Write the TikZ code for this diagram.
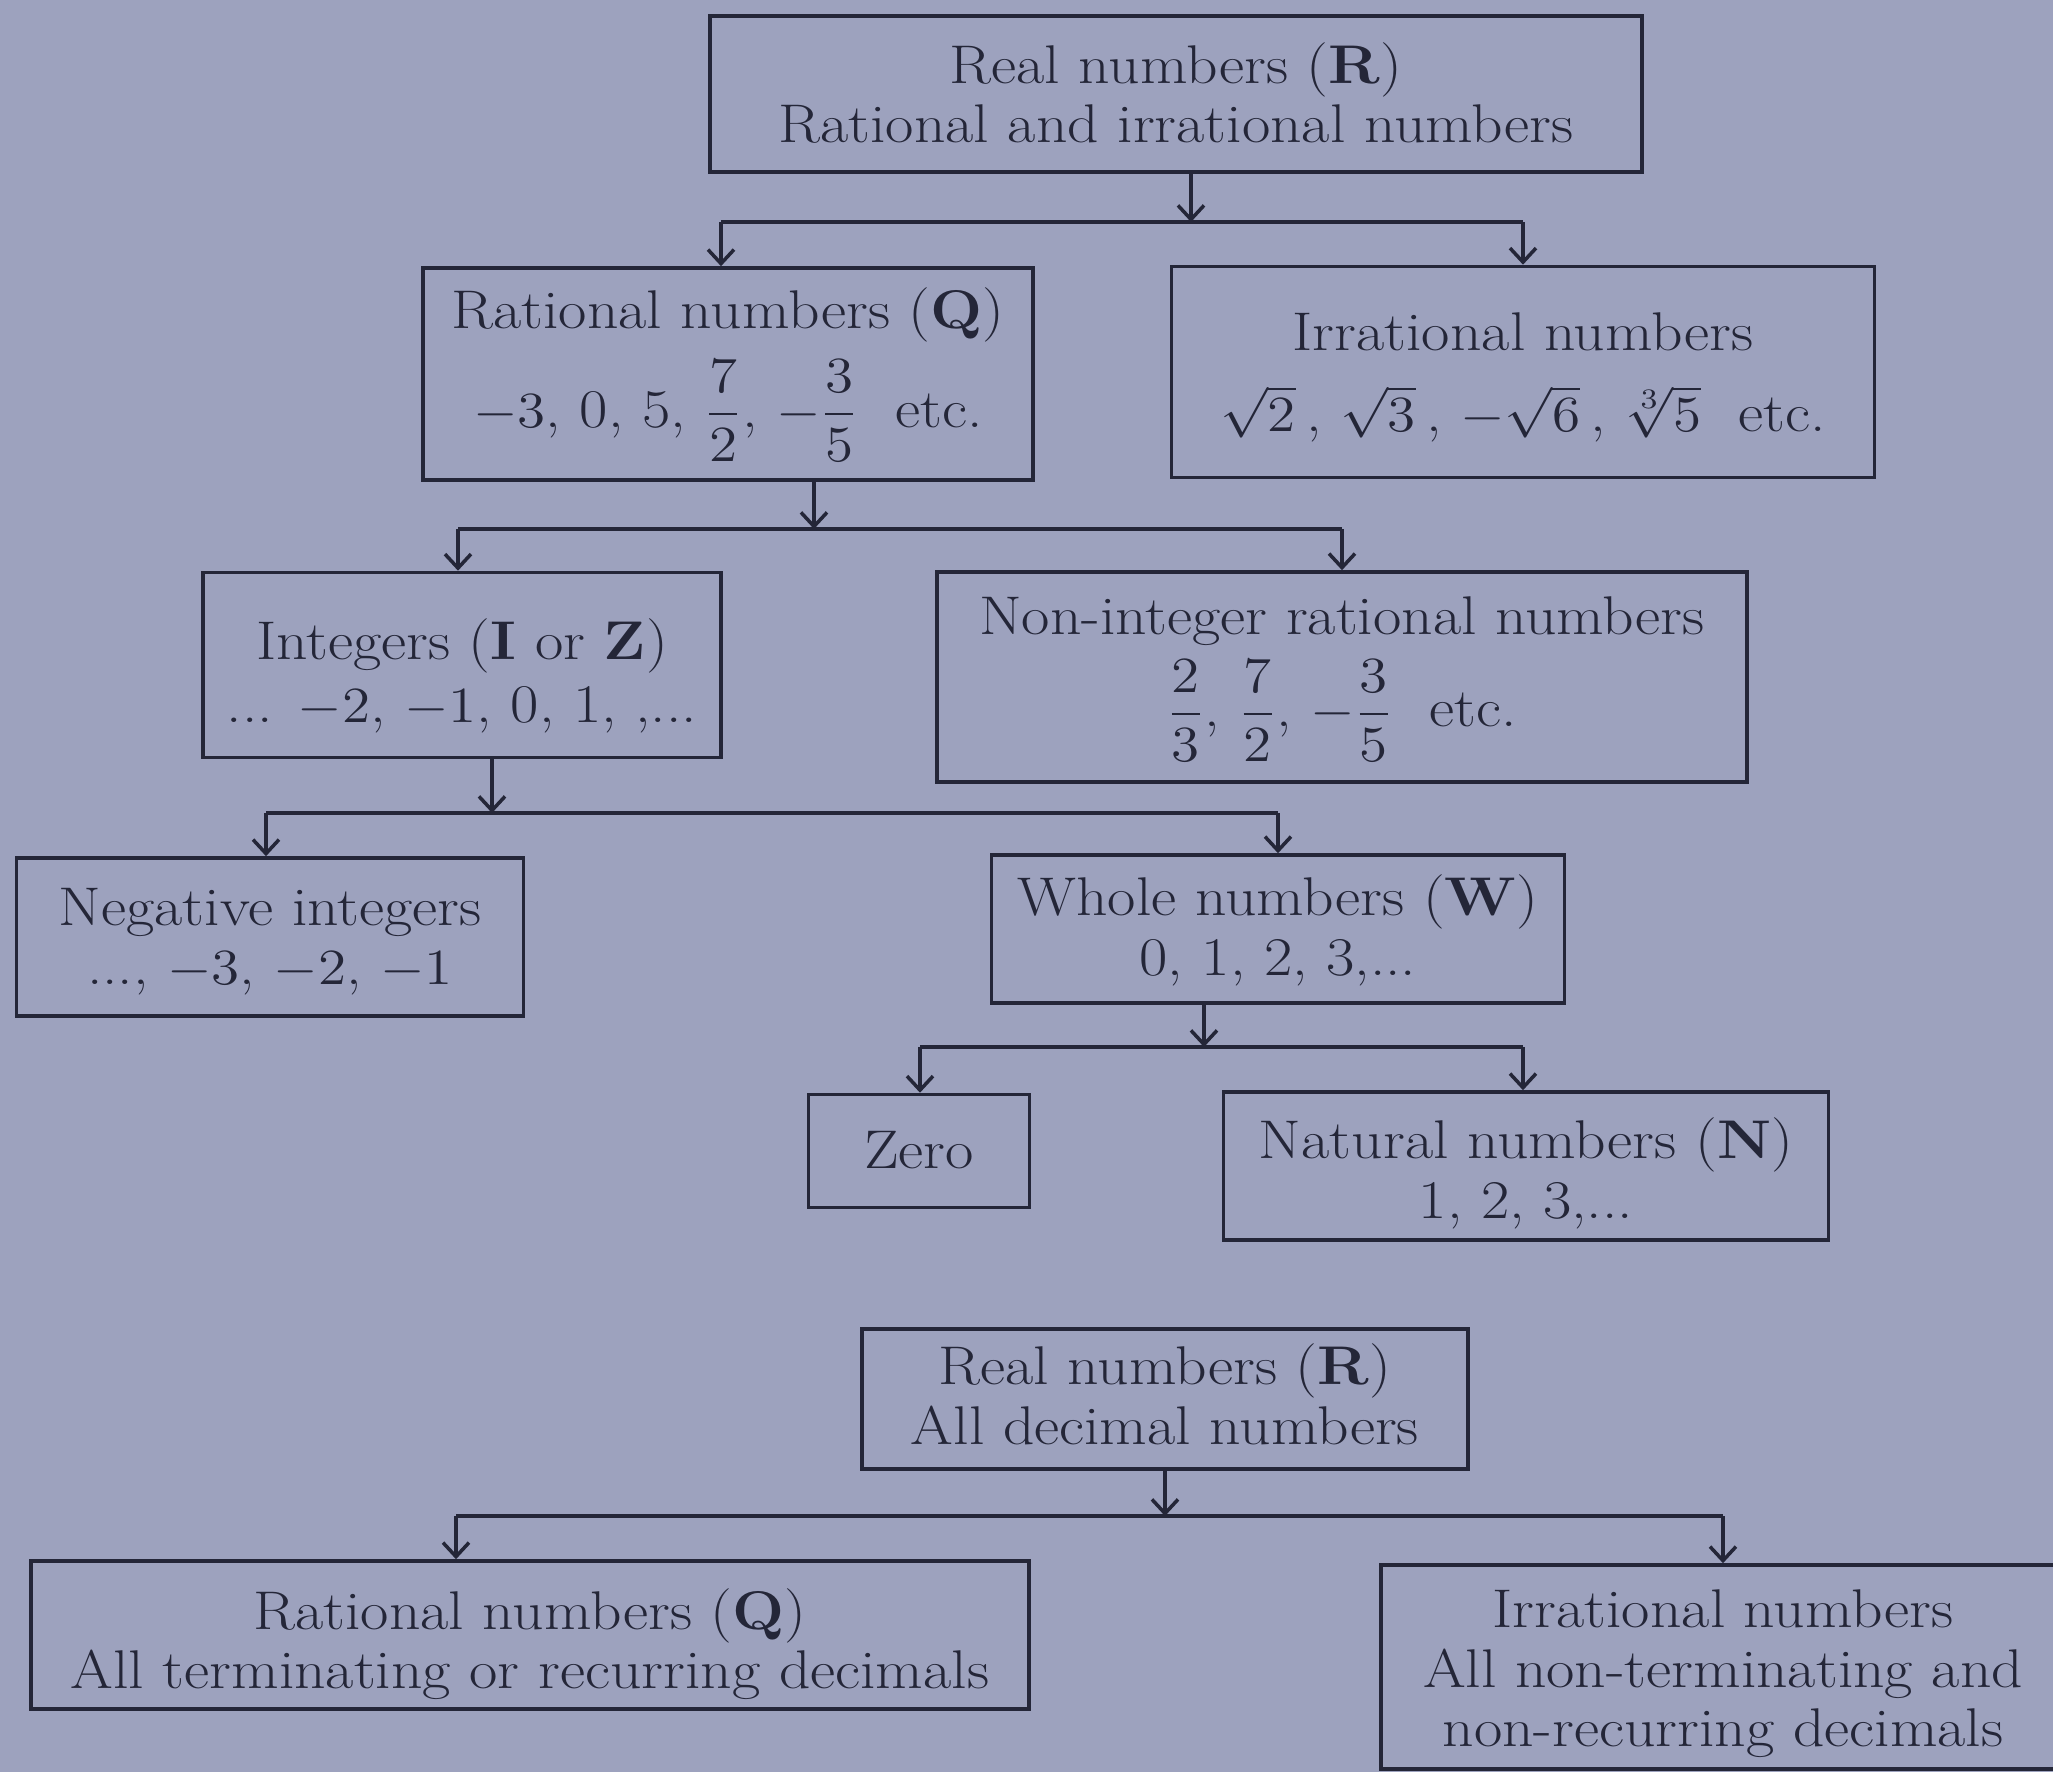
\documentclass[tikz,border=0pt]{standalone}
\usepackage{amsmath,graphicx}
\usetikzlibrary{arrows.meta}
\definecolor{paper}{RGB}{157,162,190}
\definecolor{ink}{RGB}{36,38,56}
% text of a box, a bit wider than the font gives; [#1] lowers it in the box
\newcommand{\Wide}[2][0pt]{\raisebox{-#1}[\height][\depth]{%
  \scalebox{1.13}[1]{\begin{tabular}{@{}c@{}}#2\end{tabular}}}}
\tikzset{
  numbox/.style={draw=ink, line width=1pt, text=ink,
    inner sep=0pt, font=\fontsize{15.5}{17}\selectfont},
  arr/.style={draw=ink, line width=1pt, -{Straight Barb[length=1.4mm,width=2.6mm]}},
  bar/.style={draw=ink, line width=1pt}
}

\begin{document}
\begin{tikzpicture}[x=0.01cm,y=-0.01cm]
\path[use as bounding box, fill=paper] (0,0) rectangle (2053,1772);
\clip (0,0) rectangle (2053,1772);
% first tree
\node[numbox, minimum width=9.31cm, minimum height=1.56cm] (real) at (1176,94)
  {\Wide[2pt]{Real numbers (\textbf{R})\\ Rational and irrational numbers}};
\node[numbox, minimum width=6.10cm, minimum height=2.12cm] (ratq) at (728,374)
  {\Wide{Rational numbers (\textbf{Q})\\[4pt] $-3$, 0, 5, $\dfrac{7}{2}$, $-\dfrac{3}{5}$ \ etc.}};
\node[numbox, minimum width=7.03cm, minimum height=2.11cm] (irr) at (1523,372)
  {\Wide[2pt]{Irrational numbers\\[5pt] $\sqrt{2}$\,, $\sqrt{3}$\,, $-\sqrt{6}$\,, $\sqrt[3]{5}$ \ etc.}};
\node[numbox, minimum width=5.18cm, minimum height=1.85cm] (integ) at (462,665)
  {\Wide[4pt]{Integers (\textbf{I} or \textbf{Z})\\[1pt] ... $-2$, $-1$, 0, 1, ,...}};
\node[numbox, minimum width=8.10cm, minimum height=2.10cm] (nonint) at (1342,677)
  {\Wide{Non-integer rational numbers\\[2pt] $\dfrac{2}{3}$, $\dfrac{7}{2}$, $-\dfrac{3}{5}$ \ etc.}};
\node[numbox, minimum width=5.07cm, minimum height=1.58cm] (neg) at (270,937)
  {\Wide[1.7pt]{Negative integers\\ ..., $-3$, $-2$, $-1$}};
\node[numbox, minimum width=5.73cm, minimum height=1.48cm] (whole) at (1278,929)
  {\Wide[1.4pt]{Whole numbers (\textbf{W})\\ 0, 1, 2, 3,...}};
\node[numbox, minimum width=2.21cm, minimum height=1.13cm] (zero) at (919,1151)
  {\Wide[1.7pt]{Zero}};
\node[numbox, minimum width=6.05cm, minimum height=1.48cm] (nat) at (1526,1166)
  {\Wide[3pt]{Natural numbers (\textbf{N})\\ 1, 2, 3,...}};
% second tree
\node[numbox, minimum width=6.06cm, minimum height=1.40cm] (real2) at (1165,1399)
  {\Wide[1.1pt]{Real numbers (\textbf{R})\\ All decimal numbers}};
\node[numbox, minimum width=9.97cm, minimum height=1.48cm] (rat2) at (530,1635)
  {\Wide[3.4pt]{Rational numbers (\textbf{Q})\\ All terminating or recurring decimals}};
\node[numbox, minimum width=6.84cm, minimum height=2.04cm] (irr2) at (1723,1667)
  {\Wide[2.3pt]{Irrational numbers\\ All non-terminating and\\ non-recurring decimals}};
% stems and bars
\foreach \pa/\sx/\by/\lx/\rx/\lc/\rc in {real/1191/222/721/1523/ratq/irr,
    ratq/814/529/458/1342/integ/nonint, integ/492/813/266/1278/neg/whole,
    whole/1204/1047/920/1523/zero/nat, real2/1165/1516/456/1723/rat2/irr2}
{
  \coordinate (jc) at (\sx,\by);
  \coordinate (jl) at (\lx,\by);
  \coordinate (jr) at (\rx,\by);
  \draw[arr] (jc |- \pa.south) -- (jc);
  \draw[bar] (jl) -- (jr);
  \draw[arr] (jl) -- (jl |- \lc.north);
  \draw[arr] (jr) -- (jr |- \rc.north);
}
\end{tikzpicture}
\end{document}
